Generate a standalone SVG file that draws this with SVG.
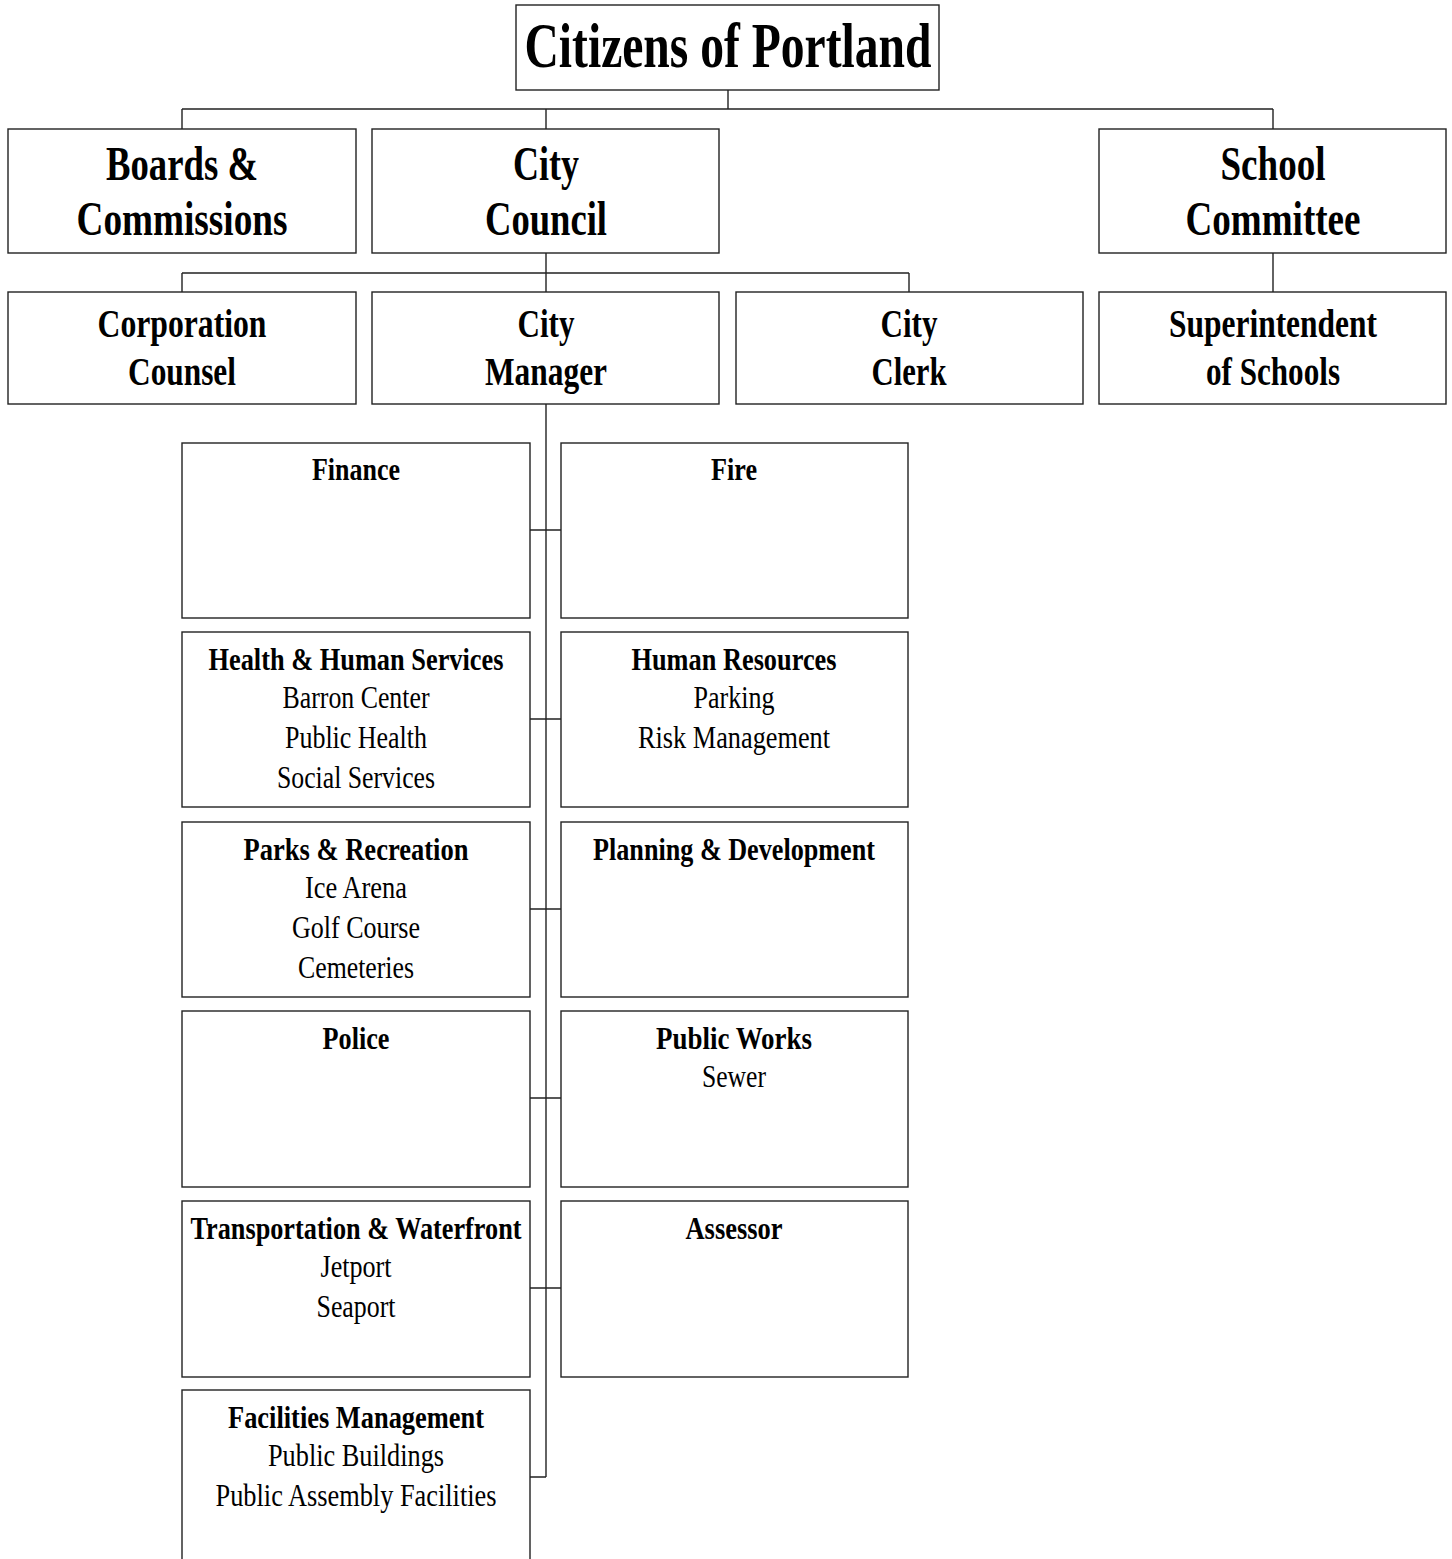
<svg xmlns="http://www.w3.org/2000/svg" width="1452" height="1559" viewBox="0 0 1452 1559">
<style>
rect{fill:#fff;stroke:#222;stroke-width:1.4}
#connectors path{fill:none;stroke:#222;stroke-width:1.4}
text{font-family:'Liberation Serif','Times New Roman',serif;text-anchor:middle;fill:#000}
.b{font-weight:bold}
.t1{font-size:64px}
.t2{font-size:48px}
.t3{font-size:39px}
.t4{font-size:32px}
</style>
<rect x="0" y="0" width="1452" height="1559" style="stroke:none"/>
<g id="connectors">
<path d="M728 90V109M182 109H1273M182 109V129M546 109V129M1273 109V129"/>
<path d="M546 253V273M182 273H909M182 273V292M546 273V292M909 273V292"/>
<path d="M1273 253V292"/>
<path d="M546 404V1477"/>
<path d="M530 530H561M530 719H561M530 909H561M530 1098H561M530 1288H561M530 1477H546"/>
</g>
<g id="citizens"><rect x="516" y="5" width="423" height="85"/><text class="b t1" x="728" y="67" textLength="407" lengthAdjust="spacingAndGlyphs">Citizens of Portland</text></g>
<g id="boards"><rect x="8" y="129" width="348" height="124"/><text class="b t2" x="182" y="180" textLength="152" lengthAdjust="spacingAndGlyphs">Boards &amp;</text><text class="b t2" x="182" y="235" textLength="211" lengthAdjust="spacingAndGlyphs">Commissions</text></g>
<g id="council"><rect x="372" y="129" width="347" height="124"/><text class="b t2" x="546" y="180" textLength="66" lengthAdjust="spacingAndGlyphs">City</text><text class="b t2" x="546" y="235" textLength="122" lengthAdjust="spacingAndGlyphs">Council</text></g>
<g id="school"><rect x="1099" y="129" width="347" height="124"/><text class="b t2" x="1273" y="180" textLength="105" lengthAdjust="spacingAndGlyphs">School</text><text class="b t2" x="1273" y="235" textLength="175" lengthAdjust="spacingAndGlyphs">Committee</text></g>
<g id="counsel"><rect x="8" y="292" width="348" height="112"/><text class="b t3" x="182" y="337" textLength="169" lengthAdjust="spacingAndGlyphs">Corporation</text><text class="b t3" x="182" y="385" textLength="108" lengthAdjust="spacingAndGlyphs">Counsel</text></g>
<g id="manager"><rect x="372" y="292" width="347" height="112"/><text class="b t3" x="546" y="337" textLength="57" lengthAdjust="spacingAndGlyphs">City</text><text class="b t3" x="546" y="385" textLength="122" lengthAdjust="spacingAndGlyphs">Manager</text></g>
<g id="clerk"><rect x="736" y="292" width="347" height="112"/><text class="b t3" x="909" y="337" textLength="57" lengthAdjust="spacingAndGlyphs">City</text><text class="b t3" x="909" y="385" textLength="75" lengthAdjust="spacingAndGlyphs">Clerk</text></g>
<g id="superintendent"><rect x="1099" y="292" width="347" height="112"/><text class="b t3" x="1273" y="337" textLength="208" lengthAdjust="spacingAndGlyphs">Superintendent</text><text class="b t3" x="1273" y="385" textLength="134" lengthAdjust="spacingAndGlyphs">of Schools</text></g>
<g id="finance"><rect x="182" y="443" width="348" height="175"/><text class="b t4" x="356" y="480" textLength="88" lengthAdjust="spacingAndGlyphs">Finance</text></g>
<g id="fire"><rect x="561" y="443" width="347" height="175"/><text class="b t4" x="734" y="480" textLength="46" lengthAdjust="spacingAndGlyphs">Fire</text></g>
<g id="health"><rect x="182" y="632" width="348" height="175"/><text class="b t4" x="356" y="670" textLength="295" lengthAdjust="spacingAndGlyphs">Health &amp; Human Services</text><text class="t4" x="356" y="708" textLength="147" lengthAdjust="spacingAndGlyphs">Barron Center</text><text class="t4" x="356" y="748" textLength="142" lengthAdjust="spacingAndGlyphs">Public Health</text><text class="t4" x="356" y="788" textLength="158" lengthAdjust="spacingAndGlyphs">Social Services</text></g>
<g id="hr"><rect x="561" y="632" width="347" height="175"/><text class="b t4" x="734" y="670" textLength="205" lengthAdjust="spacingAndGlyphs">Human Resources</text><text class="t4" x="734" y="708" textLength="81" lengthAdjust="spacingAndGlyphs">Parking</text><text class="t4" x="734" y="748" textLength="192" lengthAdjust="spacingAndGlyphs">Risk Management</text></g>
<g id="parks"><rect x="182" y="822" width="348" height="175"/><text class="b t4" x="356" y="860" textLength="225" lengthAdjust="spacingAndGlyphs">Parks &amp; Recreation</text><text class="t4" x="356" y="898" textLength="102" lengthAdjust="spacingAndGlyphs">Ice Arena</text><text class="t4" x="356" y="938" textLength="128" lengthAdjust="spacingAndGlyphs">Golf Course</text><text class="t4" x="356" y="978" textLength="116" lengthAdjust="spacingAndGlyphs">Cemeteries</text></g>
<g id="planning"><rect x="561" y="822" width="347" height="175"/><text class="b t4" x="734" y="860" textLength="282" lengthAdjust="spacingAndGlyphs">Planning &amp; Development</text></g>
<g id="police"><rect x="182" y="1011" width="348" height="176"/><text class="b t4" x="356" y="1049" textLength="67" lengthAdjust="spacingAndGlyphs">Police</text></g>
<g id="publicworks"><rect x="561" y="1011" width="347" height="176"/><text class="b t4" x="734" y="1049" textLength="156" lengthAdjust="spacingAndGlyphs">Public Works</text><text class="t4" x="734" y="1087" textLength="64" lengthAdjust="spacingAndGlyphs">Sewer</text></g>
<g id="transportation"><rect x="182" y="1201" width="348" height="176"/><text class="b t4" x="356" y="1239" textLength="331" lengthAdjust="spacingAndGlyphs">Transportation &amp; Waterfront</text><text class="t4" x="356" y="1277" textLength="71" lengthAdjust="spacingAndGlyphs">Jetport</text><text class="t4" x="356" y="1317" textLength="79" lengthAdjust="spacingAndGlyphs">Seaport</text></g>
<g id="assessor"><rect x="561" y="1201" width="347" height="176"/><text class="b t4" x="734" y="1239" textLength="97" lengthAdjust="spacingAndGlyphs">Assessor</text></g>
<g id="facilities"><rect x="182" y="1390" width="348" height="200"/><text class="b t4" x="356" y="1428" textLength="256" lengthAdjust="spacingAndGlyphs">Facilities Management</text><text class="t4" x="356" y="1466" textLength="176" lengthAdjust="spacingAndGlyphs">Public Buildings</text><text class="t4" x="356" y="1506" textLength="281" lengthAdjust="spacingAndGlyphs">Public Assembly Facilities</text></g>
</svg>
